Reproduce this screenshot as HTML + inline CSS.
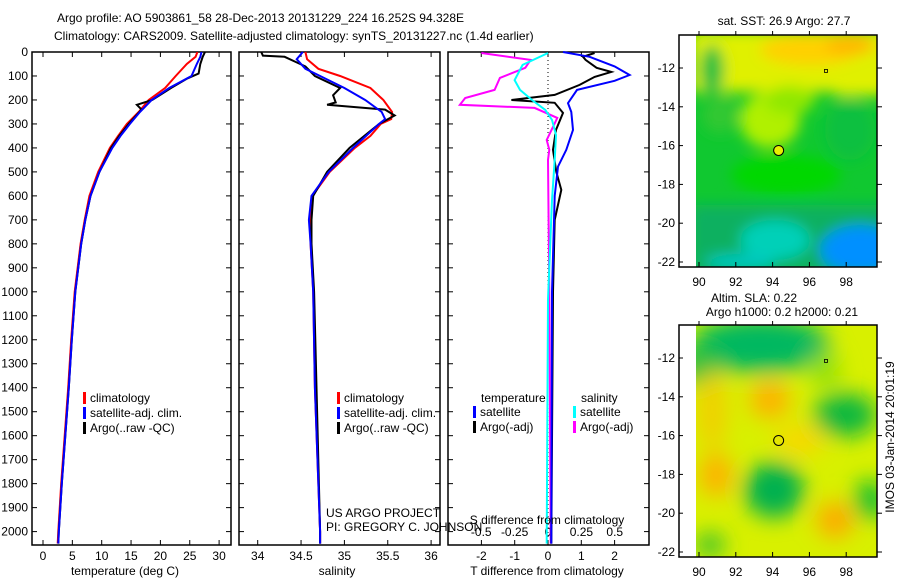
<!DOCTYPE html>
<html><head><meta charset="utf-8"><style>
body{margin:0;background:#fff;}
svg{display:block;font-family:"Liberation Sans",sans-serif;}
text{font-size:12px;fill:#000;}
</style></head><body>
<svg id="chart" width="900" height="580" viewBox="0 0 900 580" xmlns="http://www.w3.org/2000/svg">
<defs>
<filter id="bl1" x="-50%" y="-50%" width="200%" height="200%"><feGaussianBlur stdDeviation="7"/></filter>
<filter id="bl2" x="-50%" y="-50%" width="200%" height="200%"><feGaussianBlur stdDeviation="11"/></filter>
<clipPath id="cm1"><rect x="696" y="35" width="181" height="232"/></clipPath>
<clipPath id="cm2"><rect x="696" y="325" width="181" height="232"/></clipPath>
<clipPath id="cp1"><rect x="32" y="52" width="199" height="493"/></clipPath>
<clipPath id="cp2"><rect x="239" y="46" width="201" height="499"/></clipPath>
<clipPath id="cp3"><rect x="448" y="46" width="201" height="499"/></clipPath>
</defs>
<text x="57" y="22">Argo profile: AO 5903861_58 28-Dec-2013 20131229_224 16.252S 94.328E</text>
<text x="54" y="40">Climatology: CARS2009. Satellite-adjusted climatology: synTS_20131227.nc (1.4d earlier)</text>
<g id="g1"></g><g id="g2"></g><g id="g3"></g><g id="gm"></g>
</svg>
<script>
// ---- data ----
const tDepth = [0,20,50,100,150,200,250,300,350,400,500,600,700,800,1000,1200,1400,1600,1800,2000,2050];
const tClim  = [26.3,26,24.5,22.6,20.8,18,16.3,14.3,12.8,11.4,9.4,7.9,7.1,6.4,5.4,4.8,4.3,3.7,3.1,2.6,2.5];
const tSat   = [27,26.8,26.2,25.3,21.5,18.5,16.5,14.8,13.2,11.8,9.6,8.1,7.2,6.5,5.5,4.9,4.4,3.8,3.2,2.7,2.6];
const aDepth = [0,20,50,90,110,150,200,220,240,300,350,400,500,600,700,800,1000,1200,1400,1600,1800,2000,2050];
const tArgo  = [27.6,27.2,26.8,26.5,24.6,21.8,18.6,16,16.8,14.6,13,11.6,9.6,8.1,7.2,6.5,5.5,4.9,4.4,3.8,3.2,2.7,2.6];
const sDepth = [0,30,70,100,150,200,250,280,300,350,400,500,600,700,800,1000,1400,2000,2050];
const sClim  = [34.55,34.57,34.7,34.95,35.3,35.45,35.55,35.54,35.42,35.3,35.12,34.83,34.63,34.6,34.61,34.64,34.66,34.72,34.72];
const sSat   = [34.52,34.45,34.55,34.72,35.0,35.24,35.43,35.47,35.4,35.25,35.1,34.82,34.62,34.59,34.61,34.64,34.66,34.72,34.72];
const saDepth= [0,15,20,40,60,100,150,180,210,220,240,265,300,400,500,600,700,800,1000,2000,2050];
const sArgo  = [34.04,34.06,34.31,34.43,34.55,34.66,34.95,34.87,34.9,34.8,35.47,35.58,35.4,35.06,34.8,34.64,34.62,34.62,34.65,34.72,34.72];
const dtSatDepth = [0,20,60,96,120,158,213,250,325,408,478,600,1000,2050];
const dtSat  = [0.45,1.25,2.0,2.45,2.0,0.87,0.6,0.7,0.75,0.55,0.3,0.2,0.12,0.1];
const dtArgoDepth = [4,20,33,66,83,104,137,179,200,212,254,325,408,500,575,700,1000,2050];
const dtArgo = [1.4,1.05,1.13,1.46,1.9,1.4,0.95,0.2,-1.1,0.2,0.45,0.24,0.15,0.25,0.4,0.2,0.15,0.1];
const dsSatDepth = [4,54,117,158,200,242,283,346,450,617,1033,2050];
const dsSat  = [0,-0.19,-0.25,-0.21,-0.12,-0.02,0.03,0.06,0.05,0.03,0,-0.01];
const dsArgoDepth = [4,33,66,108,158,192,220,233,275,367,408,450,1000,2050];
const dsArgo = [-0.5,-0.13,-0.17,-0.36,-0.4,-0.62,-0.66,-0.1,0.07,-0.01,0.01,0,0.01,0.02];
const depthTicks = [0,100,200,300,400,500,600,700,800,900,1000,1100,1200,1300,1400,1500,1600,1700,1800,1900,2000];
const tTicks = [0,5,10,15,20,25,30];
const sTicks = [34,34.5,35,35.5,36];
const dtTicks = [-2,-1,0,1,2];
const dsTicks = [-0.5,-0.25,0,0.25,0.5];
const lonTicks = [90,92,94,96,98];
const latTicks = [-12,-14,-16,-18,-20,-22];
const argoPos = [94.328,-16.252];
const prevPos = [96.9,-12.15];

// ---- scales ----
const yD = d => 52 + d*0.2398;
const xT = t => 43 + t*5.87;
const xS = s => 257.7 + (s-34)*86.7;
const xDT = t => 548 + t*33.3;
const xDS = s => 548 + s*133.5;
const xLon = l => 699 + (l-90)*18.4;
const yLat1 = l => 68 + (-12-l)*19.4;
const yLat2 = l => 358 + (-12-l)*19.4;
const NS='http://www.w3.org/2000/svg';
function mk(tag, attrs, parent){const e=document.createElementNS(NS,tag);for(const k in attrs)e.setAttribute(k,attrs[k]);parent.appendChild(e);return e;}
function txt(s,x,y,anchor,parent){const e=mk('text',{x:x,y:y,'text-anchor':anchor||'start'},parent);e.textContent=s;return e;}
function stepPath(ds,vs,xf){let p='';for(let i=0;i<ds.length;i++){const x=xf(vs[i]).toFixed(1),y=yD(ds[i]).toFixed(1);p+=(i?'L':'M')+x+','+y;}return p;}

const g1=document.getElementById('g1'),g2=document.getElementById('g2'),g3=document.getElementById('g3'),gm=document.getElementById('gm');

function frame(g,x0,x1,y0,y1,name){const r=mk('rect',{x:x0,y:y0,width:x1-x0,height:y1-y0,fill:'none',stroke:'#000','stroke-width':1.5},g);}
function yTicks(g,x0,x1,labels){depthTicks.forEach(d=>{const y=yD(d);mk('line',{x1:x0,y1:y,x2:x0+5,y2:y,stroke:'#000'},g);mk('line',{x1:x1,y1:y,x2:x1-5,y2:y,stroke:'#000'},g);if(labels){const t=txt(String(d),x0-4,y+4,'end',g);}});}
function xTicks(g,ticks,xf,yb,yt,labelY,fmt){ticks.forEach(v=>{const x=xf(v);mk('line',{x1:x,y1:yb,x2:x,y2:yb-5,stroke:'#000'},g);mk('line',{x1:x,y1:yt,x2:x,y2:yt+5,stroke:'#000'},g);const t=txt(fmt?fmt(v):String(v),x,labelY,'middle',g);});}
function line(g,d,color,name,clip,w){const p=mk('path',{d:d,fill:'none',stroke:color,'stroke-width':w||2,'clip-path':clip},g);}
function legend(g,x,y,items){items.forEach((it,i)=>{const r=mk('rect',{x:x,y:y+i*15-10,width:3,height:12,fill:it[0]},g);const t=txt(it[1],x+7,y+i*15,'start',g);});}

// panel 1 temperature
frame(g1,32,231,52,545,'temperature-plot-frame');
yTicks(g1,32,231,true);
xTicks(g1,tTicks,xT,545,52,560);
line(g1,stepPath(tDepth,tClim,xT),'#f00','temp-climatology-line','url(#cp1)');
line(g1,stepPath(aDepth,tArgo,xT),'#000','temp-argo-line','url(#cp1)');
line(g1,stepPath(tDepth,tSat,xT),'#00f','temp-satellite-line','url(#cp1)');
let t=txt('temperature (deg C)',125,575,'middle',g1);
legend(g1,83,402,[['#f00','climatology'],['#00f','satellite-adj. clim.'],['#000','Argo(..raw -QC)']]);

// panel 2 salinity
frame(g2,239,440,52,545,'salinity-plot-frame');
yTicks(g2,239,440,false);
xTicks(g2,sTicks,xS,545,52,560);
line(g2,stepPath(sDepth,sClim,xS),'#f00','sal-climatology-line','url(#cp2)');
line(g2,stepPath(saDepth,sArgo,xS),'#000','sal-argo-line','url(#cp2)');
line(g2,stepPath(sDepth,sSat,xS),'#00f','sal-satellite-line','url(#cp2)');
t=txt('salinity',337,575,'middle',g2);
legend(g2,337,402,[['#f00','climatology'],['#00f','satellite-adj. clim.'],['#000','Argo(..raw -QC)']]);
t=txt('US ARGO PROJECT',326,517,'start',g2);
t=txt('PI: GREGORY C. JOHNSON',326,531,'start',g2);

// panel 3 differences
frame(g3,448,649,52,545,'difference-plot-frame');
yTicks(g3,448,649,false);
dtTicks.forEach(v=>{const x=xDT(v);mk('line',{x1:x,y1:545,x2:x,y2:540,stroke:'#000'},g3);const e=txt(String(v),x,560,'middle',g3);});
dsTicks.forEach(v=>{const x=xDS(v);mk('line',{x1:x,y1:52,x2:x,y2:57,stroke:'#000'},g3);const e=txt(String(v),x,536,'middle',g3);});
mk('line',{x1:xDT(0),y1:52,x2:xDT(0),y2:545,stroke:'#000','stroke-dasharray':'1,3'},g3);
line(g3,stepPath(dsArgoDepth,dsArgo,xDS),'#f0f','sdiff-argo-line','url(#cp3)');
line(g3,stepPath(dtArgoDepth,dtArgo,xDT),'#000','tdiff-argo-line','url(#cp3)');
line(g3,stepPath(dtSatDepth,dtSat,xDT),'#00f','tdiff-satellite-line','url(#cp3)');
line(g3,stepPath(dsSatDepth,dsSat,xDS),'#0ff','sdiff-satellite-line','url(#cp3)');
t=txt('S difference from climatology',547,524,'middle',g3);
t=txt('T difference from climatology',547,575,'middle',g3);
t=txt('temperature',481,402,'start',g3);
t=txt('salinity',581,402,'start',g3);
legend(g3,473,416,[['#00f','satellite'],['#000','Argo(-adj)']]);
legend(g3,573,416,[['#0ff','satellite'],['#f0f','Argo(-adj)']]);

// maps
function blobs(g,clip,list,f){const gg=mk('g',{'clip-path':clip},g);const inner=mk('g',{filter:f},gg);list.forEach(b=>{mk(b[0]=='r'?'rect':'ellipse',b[0]=='r'?{x:b[1],y:b[2],width:b[3],height:b[4],fill:b[5]}:{cx:b[1],cy:b[2],rx:b[3],ry:b[4],fill:b[5]},inner);});}
function mapAxes(g,y0,yLat,name){
  frame(g,679,877,y0,y0+232,name);
  lonTicks.forEach(l=>{const x=xLon(l);mk('line',{x1:x,y1:y0+232,x2:x,y2:y0+227,stroke:'#000'},g);mk('line',{x1:x,y1:y0,x2:x,y2:y0-4,stroke:'#000'},g);const e=txt(String(l),x,y0+251,'middle',g);});
  latTicks.forEach(l=>{const y=yLat(l);mk('line',{x1:877,y1:y,x2:882,y2:y,stroke:'#000'},g);mk('line',{x1:679,y1:y,x2:683,y2:y,stroke:'#000'},g);const e=txt(String(l),675,y+4,'end',g);});
  const c=mk('circle',{cx:xLon(argoPos[0]),cy:yLat(argoPos[1]),r:5,fill:y0<100?'#e8f000':'none',stroke:'#000'},g);
  const s=mk('rect',{x:xLon(prevPos[0])-1.5,y:yLat(prevPos[1])-1.5,width:3,height:3,fill:'none',stroke:'#000','stroke-width':0.8},g);
}
// map1 SST
mk('rect',{x:696,y:35,width:181,height:232,fill:'#10c830'},gm);
blobs(gm,'url(#cm1)',[
 ['r',690,30,200,62,'#e0f000'],['e',810,50,50,15,'#ffd000'],['e',850,45,25,10,'#ffb800'],
 ['e',712,70,12,25,'#20c040'],['r',835,88,50,8,'#e0f000'],
 ['e',770,120,30,28,'#b0f000'],['e',790,100,25,14,'#90e800'],['e',720,115,18,18,'#30c830'],['e',850,130,25,30,'#10c040'],
 ['e',786,175,55,20,'#00d800'],['r',690,205,200,70,'#10b060'],['e',775,240,35,20,'#00d0b8'],['e',860,250,40,25,'#0090ff'],['e',740,262,35,8,'#00c8c0']],'url(#bl1)');
// map2 SLA
mk('rect',{x:696,y:325,width:181,height:232,fill:'#d8f000'},gm);
blobs(gm,'url(#cm2)',[
 ['e',760,345,70,28,'#00b860'],['e',700,365,25,20,'#20c040'],['e',825,370,15,18,'#90e000'],
 ['e',845,415,32,22,'#10b840'],['e',770,400,20,18,'#ffb000'],['e',712,410,15,40,'#f0d000'],
 ['e',774,490,30,28,'#00b050'],['e',716,475,16,22,'#ffb000'],['e',835,520,18,18,'#ffa800'],
 ['e',870,500,16,20,'#10c030'],['e',710,545,15,12,'#30c030'],['e',800,440,25,15,'#f8d800']],'url(#bl2)');
mapAxes(gm,35,yLat1,'sst-map-frame');
mapAxes(gm,325,yLat2,'sla-map-frame');
t=txt('sat. SST: 26.9 Argo: 27.7',784,25,'middle',gm);
t=txt('Altim. SLA: 0.22',754,302,'middle',gm);
t=txt('Argo h1000: 0.2 h2000: 0.21',782,316,'middle',gm);
t=mk('text',{x:0,y:0,transform:'translate(894,437) rotate(-90)','text-anchor':'middle'},gm);t.textContent='IMOS 03-Jan-2014 20:01:19';


</script>
</body></html>
